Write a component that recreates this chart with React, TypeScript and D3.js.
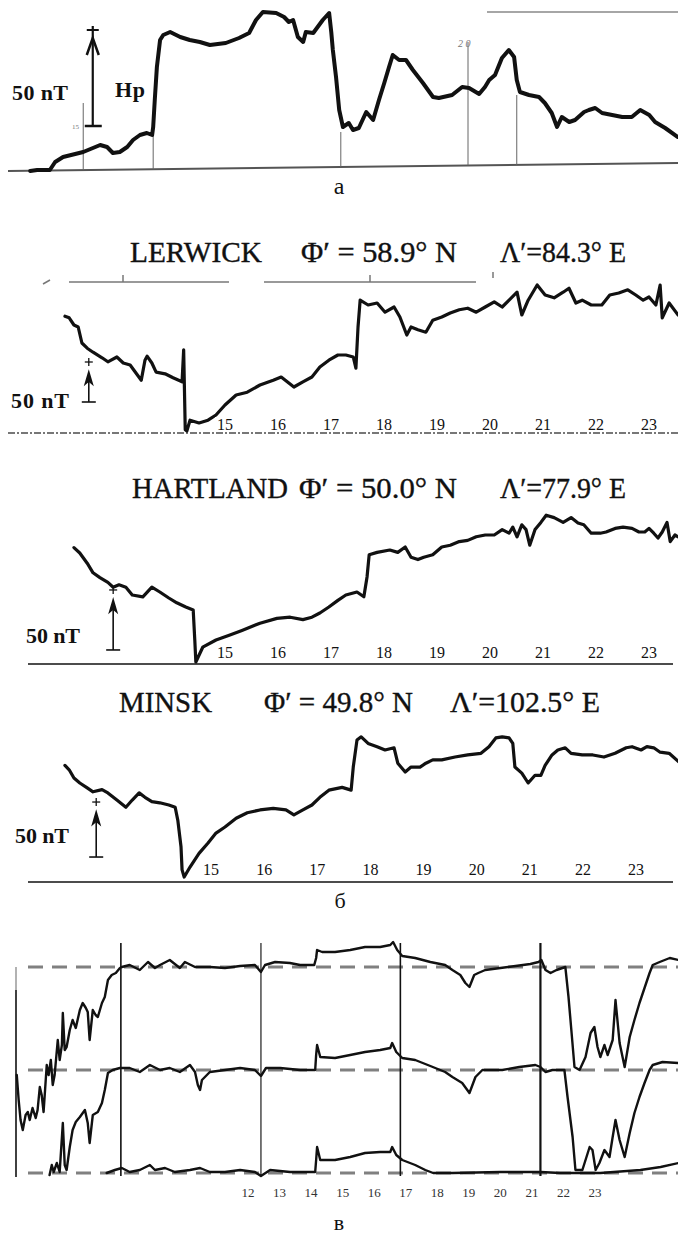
import * as d3 from 'd3';

type Pt = [number, number];

// ---------- а : Hp record, UT hours / nT
const hpCurve: Pt[] = [
  [11.74, 0], [11.87, 0.5], [12.11, 0.5], [12.21, 4.5], [12.36, 7], [12.74, 9.5], [13.06, 13], [13.19, 12],
  [13.3, 9], [13.43, 9.5], [13.57, 12], [13.68, 15.5], [13.81, 18], [13.94, 19], [14.04, 18], [14.06, 22],
  [14.09, 35.5], [14.13, 52], [14.19, 65.5], [14.25, 68], [14.38, 69.5], [14.57, 67], [14.75, 65.5], [14.94, 64.5],
  [15.13, 63], [15.43, 64], [15.68, 66.5], [15.87, 69], [16.0, 75.5], [16.13, 79.5], [16.38, 79], [16.53, 77],
  [16.62, 74.5], [16.7, 75.5], [16.79, 67], [16.89, 64.5], [16.94, 69.5], [17.08, 69], [17.26, 75.5], [17.38, 79],
  [17.42, 69.5], [17.45, 60.5], [17.51, 47], [17.57, 30.5], [17.64, 22], [17.75, 24], [17.83, 20.5], [17.94, 21.5],
  [18.08, 29.5], [18.21, 25.5], [18.32, 35.5], [18.42, 44], [18.51, 52], [18.58, 58], [18.7, 55.5], [18.83, 55.5],
  [18.96, 50.5], [19.15, 44], [19.34, 37], [19.45, 36.5], [19.7, 38], [19.89, 42], [20.02, 41.5], [20.21, 38.5],
  [20.32, 42], [20.4, 45.5], [20.51, 48], [20.64, 56.5], [20.77, 60.5], [20.87, 57], [20.92, 45.5], [20.98, 39.5],
  [21.15, 38], [21.34, 37], [21.45, 34], [21.58, 29], [21.68, 22], [21.77, 27], [21.91, 24.5], [22.02, 25.5],
  [22.19, 29.5], [22.28, 30.5], [22.4, 31.5], [22.53, 29], [22.72, 28], [22.91, 27], [23.09, 27], [23.25, 30.5],
  [23.42, 28], [23.53, 24.5], [23.72, 21.5], [23.96, 17],
];
const hpMarkTimes = [12.74, 14.06, 17.6, 20, 20.92];
const hpMarkTops = [34, 19, 19.5, 64.5, 38];

// ---------- б : three stations, UT hours / nT
const stationNames = ['LERWICK', 'HARTLAND', 'MINSK'];
const stationLat = ['Φ′ = 58.9° N', 'Φ′ = 50.0° N', 'Φ′ = 49.8° N'];
const stationLon = ['Λ′=84.3° E', 'Λ′=77.9° E', 'Λ′=102.5° E'];
const stationHours = [15, 16, 17, 18, 19, 20, 21, 22, 23];

const lerwick: Pt[] = [
  [11.98, 146], [12.06, 144], [12.15, 135], [12.23, 132.5], [12.3, 112.5], [12.4, 106], [12.51, 101], [12.68, 94],
  [12.79, 89], [12.96, 95], [13.08, 87.5], [13.21, 85], [13.32, 75], [13.42, 66], [13.49, 91], [13.53, 96],
  [13.62, 87.5], [13.7, 76], [13.87, 74], [14.02, 69], [14.19, 64], [14.22, 104], [14.25, 4], [14.28, 2.5],
  [14.34, 16], [14.51, 12.5], [14.68, 16], [14.83, 22.5], [15.0, 35], [15.21, 47.5], [15.42, 51], [15.66, 60],
  [15.91, 66], [16.06, 70], [16.3, 57.5], [16.47, 64], [16.64, 70], [16.79, 82.5], [16.96, 91], [17.13, 97.5],
  [17.28, 97.5], [17.42, 95], [17.47, 81], [17.51, 132.5], [17.55, 166], [17.7, 160], [17.87, 162.5], [18.02, 151],
  [18.19, 157.5], [18.3, 145], [18.43, 122.5], [18.51, 132.5], [18.64, 129], [18.79, 126], [18.92, 141], [19.09, 145],
  [19.25, 150], [19.42, 154], [19.58, 156], [19.74, 151], [19.91, 157.5], [20.08, 164], [20.23, 157.5], [20.36, 166],
  [20.51, 176], [20.6, 147.5], [20.72, 166], [20.89, 185], [21.04, 172.5], [21.21, 169], [21.38, 176], [21.49, 181],
  [21.62, 162.5], [21.74, 166], [21.91, 160], [22.11, 160], [22.26, 172.5], [22.43, 175], [22.6, 179], [22.75, 172.5],
  [22.89, 166], [23.0, 170], [23.13, 160], [23.21, 185], [23.25, 144], [23.38, 162.5], [23.55, 147.5],
];

const hartland: Pt[] = [
  [12.15, 97], [12.26, 92.5], [12.4, 84], [12.51, 76], [12.64, 72], [12.79, 68], [12.89, 64], [13.0, 66],
  [13.13, 64], [13.25, 57.5], [13.45, 56], [13.62, 64], [13.77, 60], [13.94, 55], [14.09, 51], [14.26, 47.5],
  [14.4, 45], [14.43, 20], [14.45, 1.7], [14.58, 14], [14.83, 20], [15.08, 24], [15.32, 28], [15.66, 34],
  [15.98, 38], [16.23, 39], [16.47, 37], [16.64, 39], [16.79, 42.5], [16.96, 47.5], [17.13, 53], [17.28, 57.5],
  [17.49, 60], [17.62, 56], [17.68, 72.5], [17.72, 91], [17.87, 93], [18.11, 95], [18.26, 93], [18.4, 97.5],
  [18.51, 89], [18.64, 87], [18.75, 89], [18.92, 91], [19.09, 97.5], [19.25, 99], [19.42, 102], [19.58, 103],
  [19.74, 106], [19.91, 107.5], [20.08, 107.5], [20.23, 112], [20.36, 109], [20.43, 114], [20.51, 106], [20.6, 116],
  [20.68, 112], [20.75, 99], [20.85, 112], [20.96, 118], [21.06, 124], [21.21, 122], [21.38, 118], [21.53, 122],
  [21.66, 117.5], [21.77, 116], [21.91, 109], [22.08, 109], [22.19, 110], [22.36, 113], [22.51, 114], [22.68, 113],
  [22.81, 110], [22.92, 110], [23.0, 113], [23.09, 109], [23.17, 105], [23.25, 110], [23.34, 118], [23.4, 102],
  [23.49, 107.5], [23.55, 106],
];

const minsk: Pt[] = [
  [11.98, 106], [12.06, 102], [12.15, 94.5], [12.26, 90], [12.4, 85.5], [12.51, 82], [12.68, 84], [12.79, 81],
  [12.96, 74.5], [13.13, 68], [13.25, 74.5], [13.38, 81], [13.49, 77], [13.62, 73], [13.77, 72], [13.94, 70],
  [14.06, 68], [14.11, 56], [14.17, 32], [14.19, 11], [14.23, 4.5], [14.34, 13.6], [14.51, 26], [14.68, 35.5],
  [14.83, 44.5], [15.0, 50], [15.21, 58], [15.42, 63], [15.66, 65.5], [15.91, 67], [16.15, 65.5], [16.3, 61],
  [16.47, 65.5], [16.64, 70], [16.79, 77], [16.96, 83.5], [17.21, 86], [17.38, 83.5], [17.42, 104.5], [17.49, 129],
  [17.57, 132], [17.7, 126], [17.87, 123], [18.02, 120], [18.19, 122], [18.26, 108], [18.4, 100], [18.51, 104.5],
  [18.68, 104.5], [18.79, 108], [18.92, 111], [19.09, 111], [19.34, 113.6], [19.58, 115.5], [19.83, 117], [19.98, 123],
  [20.11, 131], [20.23, 132], [20.36, 131], [20.43, 126], [20.47, 104.5], [20.6, 99], [20.72, 90], [20.85, 97],
  [20.96, 97], [21.04, 106], [21.17, 115.5], [21.28, 120], [21.42, 122], [21.53, 117], [21.74, 115.5], [21.94, 115.5],
  [22.15, 113.6], [22.36, 117], [22.57, 122], [22.68, 123], [22.85, 120], [22.96, 123], [23.09, 122], [23.21, 118],
  [23.38, 117], [23.57, 109],
];

// ---------- в : three stacked traces, UT hours / deflection
const vHours = [12, 13, 14, 15, 16, 17, 18, 19, 20, 21, 22, 23];
const vMarkTimes = [7.97, 12.41, 16.83, 21.27];

const vTop: Pt[] = [
  [4.67, -108], [4.73, -133], [4.79, -153], [4.86, -163], [4.95, -148], [5.02, -145], [5.08, -153], [5.17, -141],
  [5.27, -151], [5.33, -143], [5.4, -120], [5.46, -128], [5.52, -145], [5.62, -98], [5.68, -108], [5.75, -93],
  [5.81, -118], [5.87, -108], [5.97, -73], [6.03, -93], [6.1, -78], [6.13, -46], [6.19, -83], [6.25, -80],
  [6.35, -63], [6.44, -53], [6.54, -61], [6.67, -43], [6.76, -36], [6.86, -41], [6.92, -45], [6.98, -73],
  [7.08, -43], [7.17, -48], [7.24, -50], [7.37, -36], [7.46, -30], [7.56, -13], [7.68, -8], [7.81, -6],
  [7.94, -1], [8.0, 0], [8.25, 2], [8.57, -3], [8.83, 5], [9.05, -1], [9.21, 2], [9.52, 7],
  [9.84, -1], [10.0, 5], [10.32, 0], [10.79, 0], [11.27, -1], [11.75, 1], [12.22, 2], [12.41, -5],
  [12.54, 2], [12.86, 5], [13.33, 4], [13.65, 2], [14.1, 2], [14.16, 9], [14.19, 17], [14.35, 15],
  [14.76, 15], [15.24, 17], [15.71, 20], [16.19, 20], [16.51, 22], [16.6, 25], [16.73, 17], [16.89, 11],
  [17.3, 9], [17.78, 5], [18.25, 2], [18.48, -3], [18.73, -8], [18.89, -16], [19.02, -20], [19.17, -8],
  [19.3, -6], [19.52, -3], [20.0, -1], [20.48, 1], [20.95, 3], [21.21, 5], [21.3, 7], [21.43, -3],
  [21.59, -6], [21.78, -3], [22.06, 0], [22.16, -30], [22.25, -63], [22.35, -100], [22.51, -103], [22.7, -90],
  [22.86, -66], [22.98, -60], [23.08, -80], [23.17, -90], [23.3, -78], [23.4, -88], [23.56, -73], [23.65, -33],
  [23.78, -76], [23.94, -100], [24.1, -70], [24.25, -53], [24.41, -36], [24.57, -21], [24.73, -6], [24.83, 2],
  [25.05, 5], [25.37, 9], [25.65, 7],
];

const vMid: Pt[] = [
  [5.71, -105], [5.78, -95], [5.84, -102], [5.94, -93], [6.03, -102], [6.13, -53], [6.19, -95], [6.25, -100],
  [6.35, -77], [6.44, -60], [6.54, -52], [6.67, -47], [6.83, -40], [6.92, -53], [6.98, -73], [7.08, -45],
  [7.24, -42], [7.37, -33], [7.46, -20], [7.56, -3], [7.71, 0], [7.94, 2], [8.25, 2], [8.57, -2],
  [8.89, 5], [9.21, 0], [9.52, 2], [9.84, -2], [10.16, 5], [10.32, -2], [10.41, -15], [10.48, -20],
  [10.54, -10], [10.79, -2], [11.27, 0], [11.75, 2], [12.22, 0], [12.41, -6], [12.57, 2], [13.02, 2],
  [13.65, 0], [14.13, 0], [14.16, 15], [14.19, 25], [14.29, 13], [14.76, 12], [15.24, 15], [15.71, 18],
  [16.19, 20], [16.51, 22], [16.57, 27], [16.7, 18], [16.89, 12], [17.3, 10], [17.78, 4], [18.25, -2],
  [18.48, -7], [18.79, -13], [19.02, -23], [19.21, -7], [19.43, 0], [20.06, 0], [20.6, 3], [21.11, 5],
  [21.27, 3], [21.43, -2], [21.65, 0], [22.03, 0], [22.13, -27], [22.29, -67], [22.38, -100], [22.6, -100],
  [22.83, -77], [22.92, -80], [23.02, -100], [23.14, -93], [23.3, -80], [23.46, -87], [23.56, -67], [23.65, -50],
  [23.78, -70], [23.94, -87], [24.1, -63], [24.25, -43], [24.41, -27], [24.57, -13], [24.73, 0], [24.83, 5],
  [25.14, 8], [25.65, 7],
];

const vBottom: Pt[] = [
  [7.52, 0], [7.78, 3], [8.0, 5], [8.25, 1], [8.57, 3], [8.89, 8], [9.05, 3], [9.37, 5],
  [9.68, 1], [10.16, 3], [10.48, 5], [10.79, 1], [11.27, 1], [11.75, 3], [12.22, 1], [12.41, -3],
  [12.7, 3], [13.33, 1], [13.81, 1], [14.13, 1], [14.16, 13], [14.19, 26], [14.29, 13], [14.76, 13],
  [15.24, 16], [15.71, 20], [16.19, 21], [16.51, 21], [16.57, 26], [16.7, 18], [16.89, 13], [17.3, 8],
  [17.62, 3], [17.87, 0], [18.48, 0], [20.0, 1], [21.27, 1], [21.9, 0], [23.17, 0], [24.44, 3],
  [25.08, 6], [25.65, 10],
];

const serif = '"Liberation Serif", "Times New Roman", serif';
const ink = '#111';

function Trace({ data, x, y, w }: { data: Pt[]; x: any; y: any; w: number }) {
  const line = d3.line<Pt>().x(d => x(d[0])).y(d => y(d[1]));
  return <path d={line(data) || ''} fill="none" stroke={ink} strokeWidth={w} strokeLinejoin="round" strokeLinecap="round" />;
}

function SmallArrow({ x, yb, yp }: { x: number; yb: number; yp: number }) {
  return (
    <g stroke={ink} strokeWidth={1.6}>
      <line x1={x - 7} x2={x + 7} y1={yb} y2={yb} />
      <line x1={x} x2={x} y1={yb} y2={yp + 14} />
      <path d={`M${x},${yp + 10} L${x - 3.5},${yp + 22} L${x},${yp + 19} L${x + 3.5},${yp + 22} Z`} fill={ink} />
      <line x1={x - 4} x2={x + 4} y1={yp} y2={yp} strokeWidth={1.3} />
      <line x1={x} x2={x} y1={yp - 4} y2={yp + 4} strokeWidth={1.3} />
    </g>
  );
}

export default function App() {
  // а
  const aX = d3.scaleLinear().domain([11, 24]).range([-9, 680]);
  const aY = d3.scaleLinear().domain([0, 50]).range([171, 71]);
  const ax = aX(12.92);
  const ab = aY(22.5);
  const ap = aY(72.5);

  // б
  const bX = d3.scaleLinear().domain([15, 23]).range([225, 649]);
  const minskTickX = d3.scaleLinear().domain([15, 23]).range([211, 636]);
  const panels = [
    {
      data: lerwick, y: d3.scaleLinear().domain([0, 50]).range([433, 393]),
      titleY: 262, titleX: [130, 301, 500], titleW: [132, 156, 126],
      nt: [11, 408, 58], arrowT: 12.43, arrowV: 38.75,
      tickX: bX, tickY: 430, axis: { y: 433, x1: 8, x2: 678, dashed: true },
    },
    {
      data: hartland, y: d3.scaleLinear().domain([0, 50]).range([664, 604]),
      titleY: 498, titleX: [132, 299, 500], titleW: [156, 158, 126],
      nt: [26, 643, 54], arrowT: 12.89, arrowV: 11.7,
      tickX: bX, tickY: 658, axis: { y: 664, x1: 28, x2: 673, dashed: false },
    },
    {
      data: minsk, y: d3.scaleLinear().domain([0, 50]).range([882, 827]),
      titleY: 712, titleX: [119, 264, 450], titleW: [93, 149, 150],
      nt: [15, 843, 54], arrowT: 12.57, arrowV: 22.7,
      tickX: minskTickX, tickY: 875, axis: { y: 882, x1: 28, x2: 673, dashed: false },
    },
  ];

  // в
  const vX = d3.scaleLinear().domain([12, 23]).range([248, 595]);
  const vLevels = [967, 1070, 1173];
  const vTraces = [vTop, vMid, vBottom];
  const vY = vLevels.map(l => d3.scaleLinear().domain([0, -100]).range([l, l + 100]));

  return (
    <svg width={678} height={1234} style={{ position: 'absolute', left: 0, top: 0, background: '#fff' }} fontFamily={serif}>
      <rect width={678} height={1234} fill="#fff" />

      {/* ---------- а ---------- */}
      <line x1={487} x2={678} y1={12} y2={12} stroke="#888" strokeWidth={1.5} />
      <line x1={8} x2={678} y1={171} y2={163} stroke="#555" strokeWidth={2} />
      {hpMarkTimes.map((t, i) => {
        const x = aX(t);
        const yb = 171 - (8 * (x - 8)) / 670;
        return <line key={i} x1={x} x2={x} y1={aY(hpMarkTops[i])} y2={yb} stroke="#666" strokeWidth={1} />;
      })}
      <text x={aX(20) - 10} y={47} fontSize={10} fontStyle="italic" fill="#777">2 0</text>
      <text x={72} y={129} fontSize={7} fill="#777">15</text>
      <Trace data={hpCurve} x={aX} y={aY} w={4} />
      <g stroke={ink} fill="none">
        <line x1={ax - 8} x2={ax + 9} y1={ab} y2={ab} strokeWidth={2.5} />
        <line x1={ax} x2={ax} y1={ab} y2={ap} strokeWidth={2.2} />
        <line x1={ax - 6} x2={ax + 6} y1={ap + 4} y2={ap + 4} strokeWidth={2} />
        <path d={`M${ax - 6},${ap + 29} L${ax},${ap + 12} L${ax + 6},${ap + 29}`} strokeWidth={2.5} />
      </g>
      <text x={12} y={100} fontSize={22} fontWeight="bold" fill={ink} textLength={56}>50 nT</text>
      <text x={115} y={97} fontSize={22} fontWeight="bold" fill={ink} textLength={30}>Hp</text>
      <text x={339} y={194} fontSize={24} textAnchor="middle" fill={ink}>а</text>

      {/* ---------- б ---------- */}
      <g stroke="#777" strokeWidth={1.5}>
        <line x1={43} x2={50} y1={284} y2={280} />
        <line x1={69} x2={229} y1={282} y2={282} />
        <line x1={123} x2={123} y1={275} y2={282} />
        <line x1={264} x2={476} y1={282} y2={282} />
        <line x1={370} x2={370} y1={275} y2={282} />
        <line x1={493} x2={493} y1={272} y2={278} />
      </g>
      {panels.map((p, i) => {
        const texts = [stationNames[i], stationLat[i], stationLon[i]];
        const arrowX = bX(p.arrowT);
        return (
          <g key={i}>
            {texts.map((s, j) => (
              <text key={j} x={p.titleX[j]} y={p.titleY} fontSize={29} fill={ink} stroke={ink} strokeWidth={0.35}
                textLength={p.titleW[j]} lengthAdjust="spacingAndGlyphs">{s}</text>
            ))}
            <line x1={p.axis.x1} x2={p.axis.x2} y1={p.axis.y} y2={p.axis.y}
              stroke={p.axis.dashed ? '#777' : ink} strokeWidth={p.axis.dashed ? 2 : 1.5}
              strokeDasharray={p.axis.dashed ? '7,2,2,2' : undefined} />
            <Trace data={p.data} x={bX} y={p.y} w={3.2} />
            {stationHours.map(h => (
              <g key={h}>
                <rect x={p.tickX(h) - 10} y={p.tickY - 13} width={20} height={15} fill="#fff" />
                <text x={p.tickX(h)} y={p.tickY} fontSize={16} textAnchor="middle" fill={ink}>{h}</text>
              </g>
            ))}
            <SmallArrow x={arrowX} yb={p.y(p.arrowV)} yp={p.y(p.arrowV + 50)} />
            <text x={p.nt[0]} y={p.nt[1]} fontSize={22} fontWeight="bold" fill={ink} textLength={p.nt[2]}>50 nT</text>
          </g>
        );
      })}
      <text x={340} y={908} fontSize={22} textAnchor="middle" fill={ink}>б</text>

      {/* ---------- в ---------- */}
      {vLevels.map((l, i) => (
        <line key={i} x1={28} x2={678} y1={l} y2={l} stroke="#808080" strokeWidth={3} strokeDasharray="15,9" />
      ))}
      <line x1={16} x2={16} y1={967} y2={990} stroke="#999" strokeWidth={1.5} />
      <line x1={16} x2={16} y1={990} y2={1177} stroke={ink} strokeWidth={1.6} />
      {vMarkTimes.map((t, i) => (
        <line key={i} x1={vX(t)} x2={vX(t)} y1={943} y2={1176} stroke={i === 1 ? '#555' : ink}
          strokeWidth={i === 3 ? 2.2 : 1.6} />
      ))}
      {vTraces.map((d, i) => <Trace key={i} data={d} x={vX} y={vY[i]} w={2.4} />)}
      {vHours.map(h => (
        <text key={h} x={vX(h)} y={1197} fontSize={13} textAnchor="middle" fill="#333">{h}</text>
      ))}
      <text x={339} y={1230} fontSize={22} textAnchor="middle" fill={ink}>в</text>
    </svg>
  );
}
